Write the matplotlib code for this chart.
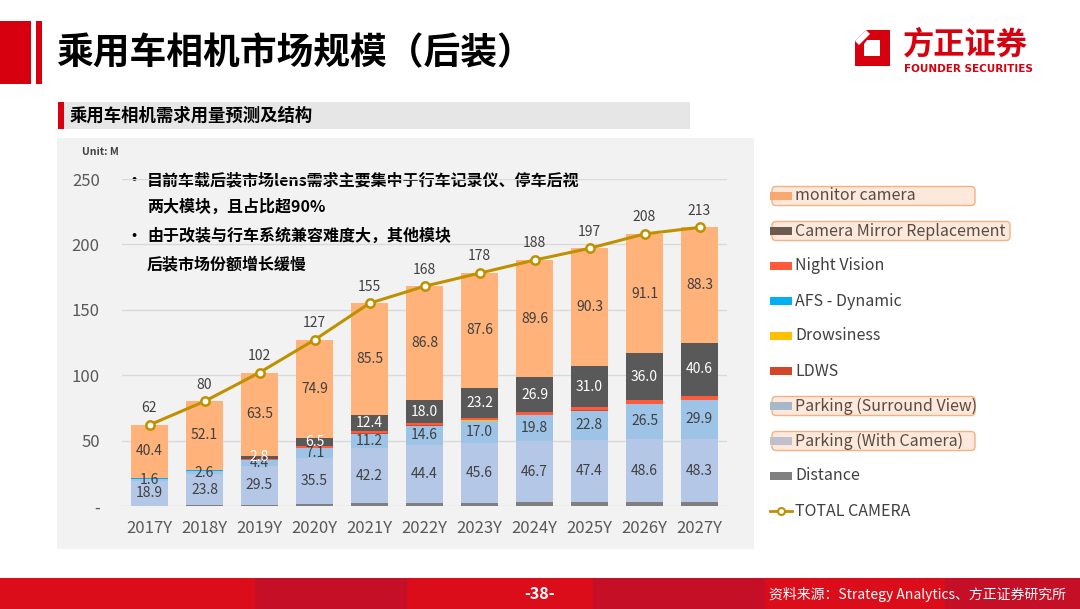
import matplotlib
matplotlib.use("Agg")
import matplotlib.pyplot as plt
import numpy as np
from matplotlib.patches import Rectangle, FancyBboxPatch, Polygon

plt.rcParams['font.family'] = ['Noto Sans CJK SC', 'DejaVu Sans']

# ── Datos (Unit: M) ────────────────────────────────────────────────────────
YEARS = ["2017Y", "2018Y", "2019Y", "2020Y", "2021Y", "2022Y",
         "2023Y", "2024Y", "2025Y", "2026Y", "2027Y"]
DISTANCE     = [0.3, 0.5, 1.0, 1.5, 2.0, 2.5, 2.6, 2.7, 2.8, 2.8, 2.9]
PARKING_CAM  = [18.9, 23.8, 29.5, 35.5, 42.2, 44.4, 45.6, 46.7, 47.4, 48.6, 48.3]
PARKING_SV   = [1.6, 2.6, 4.4, 7.1, 11.2, 14.6, 17.0, 19.8, 22.8, 26.5, 29.9]
LDWS         = [0.1, 0.1, 0.1, 0.1, 0.1, 0.1, 0.1, 0.1, 0.1, 0.1, 0.1]
DROWSINESS   = [0.1, 0.1, 0.1, 0.1, 0.1, 0.1, 0.1, 0.1, 0.1, 0.1, 0.1]
AFS          = [0.1, 0.1, 0.1, 0.1, 0.1, 0.1, 0.1, 0.1, 0.1, 0.1, 0.1]
NIGHT_VISION = [0.5, 0.5, 0.5, 1.2, 1.4, 1.4, 1.7, 2.0, 2.4, 2.7, 2.7]
CMR          = [0.0, 0.2, 2.8, 6.5, 12.4, 18.0, 23.2, 26.9, 31.0, 36.0, 40.6]
MONITOR      = [40.4, 52.1, 63.5, 74.9, 85.5, 86.8, 87.6, 89.6, 90.3, 91.1, 88.3]
TOTAL        = [62, 80, 102, 127, 155, 168, 178, 188, 197, 208, 213]

Y_TICKS = [0, 50, 100, 150, 200, 250]
Y_TICK_LABELS = ["-", "50", "100", "150", "200", "250"]

# (nombre, valores, color barra, color leyenda, etiquetar, color etiqueta, resaltado)
SERIES = [
    ("Distance",                DISTANCE,     "#7F7F7F", "#808080", False, None,      False),
    ("Parking (With Camera)",   PARKING_CAM,  "#B4C7E7", "#C0C0CC", True,  "#404040", True),
    ("Parking (Surround View)", PARKING_SV,   "#9DC3E6", "#A6B9CB", True,  "#404040", True),
    ("LDWS",                    LDWS,         "#D24726", "#D24726", False, None,      False),
    ("Drowsiness",              DROWSINESS,   "#FFC000", "#FFC000", False, None,      False),
    ("AFS - Dynamic",           AFS,          "#00B0F0", "#00B0F0", False, None,      False),
    ("Night Vision",            NIGHT_VISION, "#FF5B3B", "#FF5B3B", False, None,      False),
    ("Camera Mirror Replacement", CMR,        "#595959", "#6B5A4E", True,  "white",   True),
    ("monitor camera",          MONITOR,      "#FFB27A", "#F9A870", True,  "#404040", True),
]
LINE_COLOR = "#BF9000"
RED = "#D7000F"

W, H = 1080, 609
fig = plt.figure(figsize=(W / 100, H / 100), dpi=100)
fig.patch.set_facecolor("white")

# ── Capa de fondo en píxeles ───────────────────────────────────────────────
bg = fig.add_axes([0, 0, 1, 1], zorder=0)
bg.set_xlim(0, W)
bg.set_ylim(H, 0)
bg.axis("off")

# cabecera
bg.add_patch(Rectangle((0, 21), 31, 63, color=RED, lw=0))
bg.add_patch(Rectangle((36, 21), 6, 63, color=RED, lw=0))
bg.text(56, 54, "乘用车相机市场规模（后装）", fontsize=26.5, fontweight="bold",
        color="black", va="center", ha="left")

# logo
bg.add_patch(Polygon([(866, 30), (890, 30), (890, 66), (855, 66), (855, 41)],
                     closed=True, color=RED, lw=0))
bg.add_patch(Polygon([(867, 40), (880, 40), (880, 56), (864, 56), (864, 44)],
                     closed=True, color="white", lw=0))
bg.add_patch(Polygon([(855, 41), (866, 30), (870, 34), (859, 45)],
                     closed=True, color="white", lw=0))
bg.text(903, 45, "方正证券", fontsize=22.5, fontweight="bold", color=RED,
        va="center", ha="left")
bg.text(904, 69, "FOUNDER SECURITIES", fontsize=7.5, fontweight="bold",
        color=RED, va="center", ha="left", family="DejaVu Sans")

# subtítulo
bg.add_patch(Rectangle((58, 102), 632, 27, color="#E6E6E6", lw=0))
bg.add_patch(Rectangle((58, 102), 6, 27, color=RED, lw=0))
bg.text(70, 115.5, "乘用车相机需求用量预测及结构", fontsize=12.5, fontweight="bold",
        color="black", va="center", ha="left")

# panel del gráfico
bg.add_patch(Rectangle((57, 138), 697, 411, color="#F2F2F2", lw=0))
bg.text(82, 152, "Unit: M", fontsize=7.5, fontweight="bold", color="#404040",
        va="center", ha="left")

# texto de comentario
NOTA = [("•", "目前车载后装市场lens需求主要集中于行车记录仪、停车后视", 180),
        ("", "两大模块，且占比超90%", 207),
        ("•", "由于改装与行车系统兼容难度大，其他模块", 236),
        ("", "后装市场份额增长缓慢", 264)]
for bullet, txt, y in NOTA:
    if bullet:
        bg.text(134, y, bullet, fontsize=8, fontweight="bold", color="black",
                va="center", ha="center", family="DejaVu Sans")
    bg.text(147, y, txt, fontsize=11.5, fontweight="bold", color="black",
            va="center", ha="left")

# pie de página
franjas = [(0, 255, "#DC0D1A"), (255, 407, "#C40F26"), (407, 593, "#DC0D1A"),
           (593, 765, "#C40F26"), (765, 945, "#DC0D1A"), (945, 1080, "#C40F26")]
for x0, x1, c in franjas:
    bg.add_patch(Rectangle((x0, 578), x1 - x0, 31, color=c, lw=0))
bg.text(540, 594, "-38-", fontsize=11.5, fontweight="bold", color="white",
        va="center", ha="center")
bg.text(1066, 594, "资料来源：Strategy Analytics、方正证券研究所", fontsize=10,
        style="italic", color="white", va="center", ha="right")

# ── Gráfico ────────────────────────────────────────────────────────────────
ax = fig.add_axes([122 / W, (H - 506) / H, 605 / W, 327 / H], zorder=1)
ax.set_facecolor("none")
x = np.arange(len(YEARS))
bottom = np.zeros(len(YEARS))
for name, vals, color, _, label_it, lcolor, _ in SERIES:
    vals = np.array(vals)
    ax.bar(x, vals, 0.68, bottom=bottom, color=color, lw=0, zorder=2)
    if label_it:
        for xi, b, v in zip(x, bottom, vals):
            if v >= 1:
                ax.text(xi, b + v / 2, f"{v:.1f}", ha="center", va="center",
                        fontsize=10, color=lcolor, zorder=4)
    bottom += vals

ax.plot(x, TOTAL, color=LINE_COLOR, lw=2.2, marker="o", markersize=6,
        markerfacecolor="white", markeredgecolor=LINE_COLOR, markeredgewidth=1.8,
        zorder=5)
for xi, t in zip(x, TOTAL):
    ax.annotate(f"{t}", (xi, t), xytext=(0, 7), textcoords="offset points",
                ha="center", va="bottom", fontsize=10, color="#404040", zorder=6)

ax.set_xlim(-0.5, len(YEARS) - 0.5)
ax.set_ylim(0, 250)
ax.set_yticks(Y_TICKS)
ax.set_yticklabels(Y_TICK_LABELS, fontsize=12, color="#595959")
ax.set_xticks(x)
ax.set_xticklabels(YEARS, fontsize=12, color="#595959")
ax.tick_params(length=0, pad=10)
ax.tick_params(axis="y", pad=16)
ax.grid(axis="y", color="#D9D9D9", lw=1, zorder=1)
ax.set_axisbelow(True)
for s in ax.spines.values():
    s.set_visible(False)

# ── Leyenda manual ─────────────────────────────────────────────────────────
ley_y = 196
for name, _, _, lcol, _, _, hl in reversed(SERIES):
    if hl:
        ancho = 238 if name.startswith("Camera") else 203
        bg.add_patch(FancyBboxPatch((772, ley_y - 9.5), ancho, 19,
                                    boxstyle="round,pad=0,rounding_size=4",
                                    fc="#FCE9DC", ec="#F4B183", lw=1, zorder=1))
    bg.add_patch(Rectangle((770, ley_y - 4), 22, 8, color=lcol, lw=0, zorder=2))
    bg.text(795, ley_y, name, fontsize=11.5, color="#5A4A42" if hl else "#404040",
            va="center", ha="left", zorder=3)
    ley_y += 35
bg.plot([770, 792], [ley_y, ley_y], color=LINE_COLOR, lw=2, zorder=2)
bg.plot([781], [ley_y], marker="o", markersize=5, markerfacecolor="white",
        markeredgecolor=LINE_COLOR, markeredgewidth=1.5, zorder=3)
bg.text(795, ley_y, "TOTAL CAMERA", fontsize=11.5, color="#404040",
        va="center", ha="left")

fig.savefig("out.png", dpi=100)
